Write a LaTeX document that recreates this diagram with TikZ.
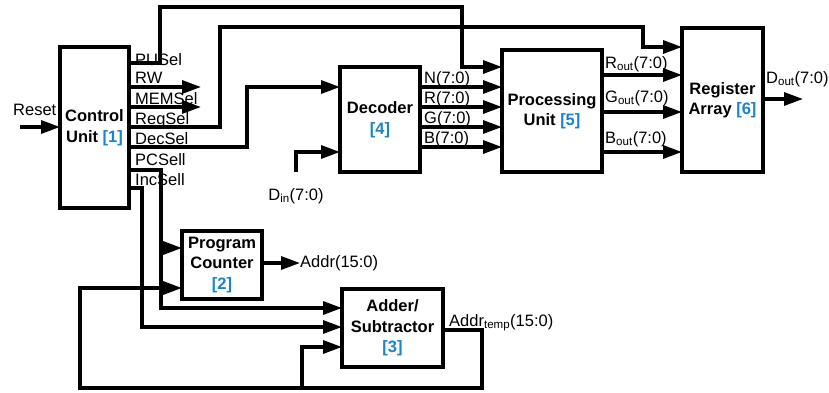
\documentclass[tikz,border=0pt]{standalone}
\usepackage{fontspec}
\setmainfont{Liberation Sans}
\usetikzlibrary{arrows.meta}
\definecolor{refblue}{RGB}{30,130,200}
\newcommand{\blkref}[1]{{\color{refblue}[#1]}}
\tikzset{
  block/.style={draw, line width=3.2pt, fill=white, align=center, inner sep=0pt, outer sep=0pt,
    font=\fontsize{16.5}{20.5}\selectfont\bfseries},
  wire/.style={line width=3.2pt},
  sig/.style={wire, -{Triangle[length=19pt,width=13pt]}},
  lbl/.style={anchor=base west, inner sep=0pt},
}
\begin{document}
\begin{tikzpicture}[x=1pt, y=-1pt, font=\fontsize{16.5}{20}\selectfont]
  \useasboundingbox (0,0) rectangle (829,392);

  % Define node positions
  \node[block, minimum width=69pt, minimum height=161pt] (cu) at (94.5,127.5) {Control\\Unit \blkref{1}};
  \node[block, minimum width=80pt, minimum height=105pt] (dec) at (380,119.5) {Decoder\\\blkref{4}};
  \node[block, minimum width=100pt, minimum height=122pt] (pu) at (552,111) {Processing\\Unit \blkref{5}};
  \node[block, minimum width=81pt, minimum height=144pt] (ra) at (722.5,100) {Register\\Array \blkref{6}};
  \node[block, minimum width=80pt, minimum height=68pt] (pc) at (222,265) {Program\\Counter\\\blkref{2}};
  \node[block, minimum width=101pt, minimum height=78pt] (add) at (392.5,328) {Adder/\\Subtractor\\\blkref{3}};

  % Free ends
  \coordinate (resetin) at (20,127);
  \coordinate (rwend) at (201,87);
  \coordinate (memend) at (201,107);
  \coordinate (dinstart) at (296,172);
  \coordinate (doutend) at (803,99);
  \coordinate (addrend) at (300,263);

  % Labels
  \node[lbl] (reset) at (13,115) {Reset};
  \node[lbl] (pusel) at (135,65) {PUSel};
  \node[lbl] (rw) at (135,83) {RW};
  \node[lbl] (memsel) at (135,104) {MEMSel};
  \node[lbl] (regsel) at (135,124) {RegSel};
  \node[lbl] (decsel) at (135,144) {DecSel};
  \node[lbl] (pcsel) at (135,165) {PCSell};
  \node[lbl] (incsel) at (135,185) {IncSell};
  \node[lbl] (nbus) at (424,83) {N(7:0)};
  \node[lbl] (rbus) at (424,103) {R(7:0)};
  \node[lbl] (gbus) at (424,123) {G(7:0)};
  \node[lbl] (bbus) at (424,143) {B(7:0)};
  \node[lbl] (rout) at (605,68) {R\textsubscript{out}(7:0)};
  \node[lbl] (gout) at (605,102) {G\textsubscript{out}(7:0)};
  \node[lbl] (bout) at (605,143) {B\textsubscript{out}(7:0)};
  \node[lbl] (dout) at (766,83) {D\textsubscript{out}(7:0)};
  \node[anchor=base, inner sep=0pt] (din) at (296,200) {D\textsubscript{in}(7:0)};
  \node[anchor=west, inner sep=0pt] (addr) at (addrend) {Addr(15:0)};
  \node[lbl] (addrtemp) at (449,326) {Addr\textsubscript{temp}(15:0)};

  % Control signals
  \draw[sig] (resetin) -- (cu.west |- resetin);
  \draw[sig] (cu.east |- 0,63) -| (160,7) -| (462,67) -- (pu.west |- 0,67);
  \draw[sig] (cu.east |- rwend) -- (rwend);
  \draw[sig] (cu.east |- memend) -- (memend);
  \draw[sig] (cu.east |- 0,127) -| (220,27) -| (643,47) -- (ra.west |- 0,47);
  \draw[sig] (cu.east |- 0,147) -| (247,87) -- (dec.west |- 0,87);
  \draw[sig] (cu.east |- 0,170) -| (161,308) -- (add.west |- 0,308);
  \draw[sig] (161,248) -- (pc.west |- 0,248);
  \draw[sig] (cu.east |- 0,188) -| (142,327) -- (add.west |- 0,327);

  % Data buses
  \draw[sig] (dinstart) |- (dec.west |- 0,152);
  \foreach \yy in {87,107,127,147}
    \draw[sig] (dec.east |- 0,\yy) -- (pu.west |- 0,\yy);
  \foreach \yy in {75,112,152}
    \draw[sig] (pu.east |- 0,\yy) -- (ra.west |- 0,\yy);
  \draw[sig] (ra.east |- doutend) -- (doutend);
  \draw[sig] (pc.east |- addrend) -- (addrend);

  % Feedback from adder
  \draw[sig] (add.east |- 0,330) -| (482,388) -| (80,288) -- (pc.west |- 0,288);
  \draw[sig] (302,388) |- (add.west |- 0,347);
\end{tikzpicture}
\end{document}
